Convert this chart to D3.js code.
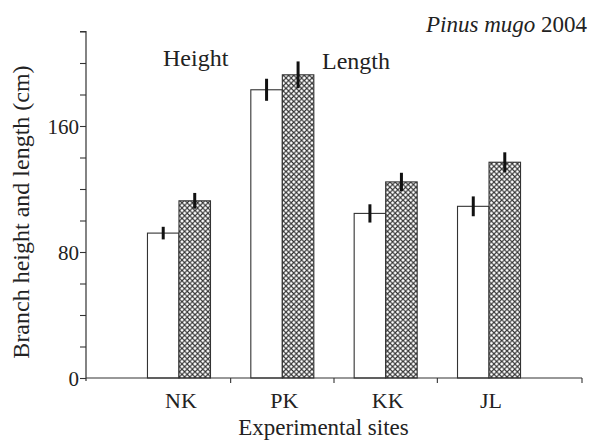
<!DOCTYPE html>
<html>
<head>
<meta charset="utf-8">
<script src="https://cdn.jsdelivr.net/npm/d3@7"></script>
<style>
  body { margin: 0; background: #fff; }
  text { font-family: "Liberation Serif", "Times New Roman", serif; fill: #222; }
</style>
</head>
<body>
<div id="chart"></div>
<script>
const width = 590;
const height = 447;

// data
const sites = ["NK", "PK", "KK", "JL"];
const series = ["Height", "Length"];
const heightVals = [92, 183, 104.5, 109];
const lengthVals = [112.5, 192.5, 124.5, 137];
const heightErr = [4, 7, 5.8, 6.3];
const lengthErr = [5, 8.5, 5.8, 6.3];
const yTicks = d3.range(0, 221, 20);
const yLabels = [0, 80, 160];

const rows = [];
sites.forEach((s, i) => {
  rows.push({ site: s, key: "Height", value: heightVals[i], err: heightErr[i] });
  rows.push({ site: s, key: "Length", value: lengthVals[i], err: lengthErr[i] });
});

const svg = d3.select("#chart")
  .append("svg")
  .attr("width", width)
  .attr("height", height);

// crosshatch fill
const pat = svg.append("defs")
  .append("pattern")
  .attr("id", "xhatch")
  .attr("patternUnits", "userSpaceOnUse")
  .attr("width", 5.2)
  .attr("height", 5.2);
pat.append("rect").attr("width", 5.2).attr("height", 5.2).attr("fill", "#fff");
pat.append("path")
  .attr("d", "M-1,-1L6.2,6.2M-1,6.2L6.2,-1")
  .attr("stroke", "#333")
  .attr("stroke-width", 1.1);

const x = d3.scaleBand()
  .domain(sites)
  .range([127.3, 540.7]);

const xs = d3.scaleBand()
  .domain(series)
  .range([0, x.bandwidth()])
  .paddingOuter(0.64);

const y = d3.scaleLinear()
  .domain([0, 220])
  .range([378, 31.5]);

const axisX = 86;

// bars
svg.selectAll("rect.bar")
  .data(rows)
  .enter()
  .append("rect")
  .attr("class", "bar")
  .attr("x", d => x(d.site) + xs(d.key))
  .attr("y", d => y(d.value))
  .attr("width", xs.bandwidth())
  .attr("height", d => y(0) - y(d.value))
  .attr("fill", d => d.key === "Height" ? "#fff" : "url(#xhatch)")
  .attr("stroke", "#333")
  .attr("stroke-width", 1.1);

// error bars
svg.selectAll("line.err")
  .data(rows)
  .enter()
  .append("line")
  .attr("class", "err")
  .attr("x1", d => x(d.site) + xs(d.key) + xs.bandwidth() / 2)
  .attr("x2", d => x(d.site) + xs(d.key) + xs.bandwidth() / 2)
  .attr("y1", d => y(d.value + d.err))
  .attr("y2", d => y(d.value - d.err))
  .attr("stroke", "#111")
  .attr("stroke-width", 3);

// y axis
const yAxis = svg.append("g")
  .attr("transform", `translate(${axisX},0)`)
  .call(d3.axisLeft(y)
    .tickValues(yTicks)
    .tickSize(6)
    .tickFormat(d => yLabels.includes(d) ? d : ""));
yAxis.select(".domain").attr("stroke", "#333").attr("stroke-width", 1.2)
  .attr("d", `M-6,${y(220)}H0V${y(0) + 3}`);
yAxis.selectAll(".tick line").attr("stroke", "#333").attr("stroke-width", 1.1);
yAxis.selectAll(".tick text")
  .attr("x", -7)
  .attr("dy", "0.34em")
  .style("font-family", "Liberation Serif")
  .style("font-size", "21px")
  .attr("fill", "#222");

// x axis: line from the y axis to the right end, ticks between sites
svg.append("line")
  .attr("x1", axisX)
  .attr("x2", 582)
  .attr("y1", y(0))
  .attr("y2", y(0))
  .attr("stroke", "#333")
  .attr("stroke-width", 1.2);

const bounds = sites.slice(1).map(s => x(s)).concat([582]);
svg.selectAll("line.xtick")
  .data(bounds)
  .enter()
  .append("line")
  .attr("class", "xtick")
  .attr("x1", d => d)
  .attr("x2", d => d)
  .attr("y1", y(0))
  .attr("y2", y(0) + 5)
  .attr("stroke", "#333")
  .attr("stroke-width", 1.1);

svg.selectAll("text.site")
  .data(sites)
  .enter()
  .append("text")
  .attr("class", "site")
  .attr("x", d => x(d) + x.bandwidth() / 2 + 2)
  .attr("y", 408)
  .attr("text-anchor", "middle")
  .style("font-size", "22px")
  .text(d => d);

// titles
svg.append("text")
  .attr("x", 323.5)
  .attr("y", 435)
  .attr("text-anchor", "middle")
  .style("font-size", "23px")
  .text("Experimental sites");

svg.append("text")
  .attr("transform", "translate(29,212) rotate(-90)")
  .attr("text-anchor", "middle")
  .style("font-size", "24px")
  .text("Branch height and length (cm)");

const title = svg.append("text")
  .attr("x", 587)
  .attr("y", 32)
  .attr("text-anchor", "end")
  .style("font-size", "23px");
title.append("tspan").style("font-style", "italic").text("Pinus mugo");
title.append("tspan").text(" 2004");

// series labels
svg.append("text")
  .attr("x", 163)
  .attr("y", 66)
  .style("font-size", "24px")
  .text(series[0]);

svg.append("text")
  .attr("x", 322)
  .attr("y", 69)
  .style("font-size", "24px")
  .text(series[1]);
</script>
</body>
</html>
